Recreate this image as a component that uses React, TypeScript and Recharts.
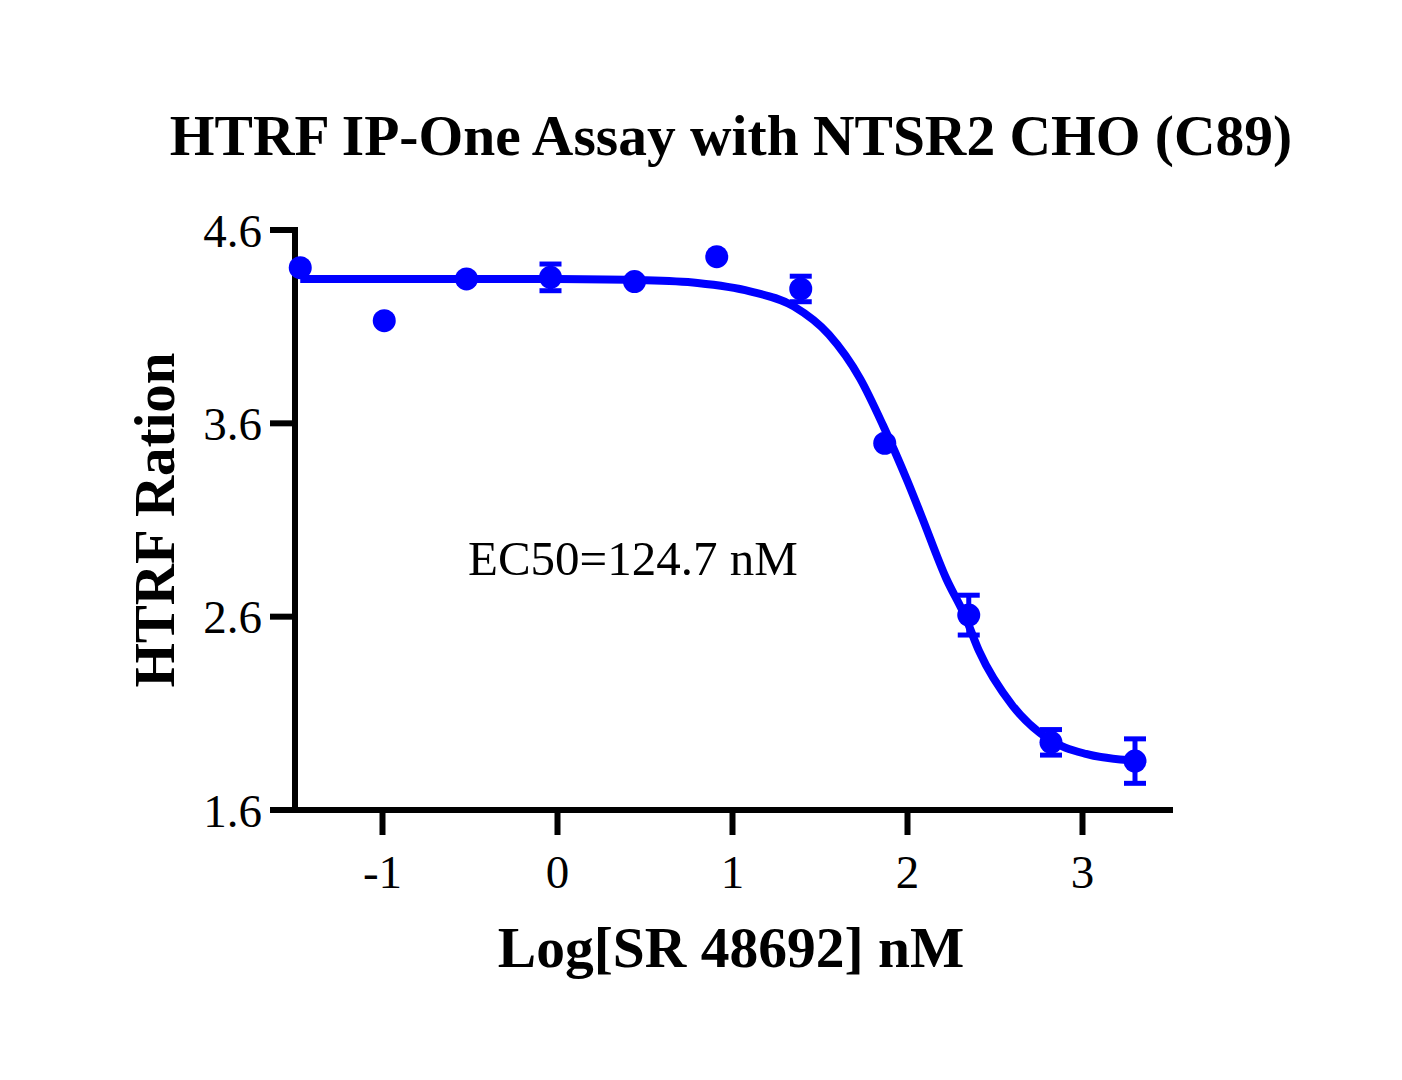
import {
  ComposedChart,
  XAxis,
  YAxis,
  Line,
  Scatter,
  ErrorBar,
} from "recharts";

// measured points: log concentration (nM), HTRF ratio, SEM
const LOG_CONC = [-1.47, -0.99, -0.52, -0.04, 0.44, 0.91, 1.39, 1.87, 2.35, 2.82, 3.3];
const RATIO = [4.405, 4.131, 4.347, 4.355, 4.333, 4.462, 4.295, 3.497, 2.608, 1.95, 1.853];
const SEM = [0, 0, 0, 0.069, 0, 0, 0.066, 0, 0.103, 0.066, 0.115];

// fitted curve
const FIT_X = [-1.47, -0.5, 0, 0.5, 0.8, 1.1, 1.35, 1.55, 1.73, 1.86, 2.0, 2.08, 2.22, 2.33, 2.41, 2.6, 2.8, 3.02, 3.3];
const FIT_Y = [4.347, 4.347, 4.346, 4.34, 4.326, 4.283, 4.205, 4.06, 3.83, 3.59, 3.3, 3.12, 2.8, 2.6, 2.42, 2.14, 1.97, 1.89, 1.855];

const X_TICKS = [-1, 0, 1, 2, 3];
const Y_TICKS = [1.6, 2.6, 3.6, 4.6];

const points = LOG_CONC.map((x, i) => ({ x, y: RATIO[i], err: SEM[i] }));
const fit = FIT_X.map((x, i) => ({ x, y: FIT_Y[i] }));

const BLUE = "#0000FF";
const SERIF = "'Liberation Serif', 'Times New Roman', serif";

const Dot = (p: any) => <circle cx={p.cx} cy={p.cy} r={11.5} fill={BLUE} />;

export default function App() {
  return (
    <div style={{ position: "absolute", left: 0, top: 0, width: 1402, height: 1080, background: "#fff" }}>
      <ComposedChart
        width={1402}
        height={1080}
        margin={{ top: 230, right: 232, bottom: 0, left: 0 }}
      >
        <XAxis
          type="number"
          dataKey="x"
          domain={[-1.5, 3.5]}
          ticks={X_TICKS}
          height={270}
          axisLine={{ stroke: "#000", strokeWidth: 6, strokeLinecap: "square" }}
          tickLine={{ stroke: "#000", strokeWidth: 6 }}
          tickSize={25}
          tickMargin={20}
          tick={{ fill: "#000", fontSize: 47, fontFamily: SERIF }}
        />
        <YAxis
          type="number"
          dataKey="y"
          domain={[1.6, 4.6]}
          ticks={Y_TICKS}
          width={295}
          axisLine={{ stroke: "#000", strokeWidth: 6, strokeLinecap: "square" }}
          tickLine={{ stroke: "#000", strokeWidth: 6 }}
          tickSize={25}
          tickMargin={8}
          tickFormatter={(v: number) => v.toFixed(1)}
          tick={{ fill: "#000", fontSize: 47, fontFamily: SERIF }}
        />
        <Line
          data={fit}
          dataKey="y"
          type="monotone"
          stroke={BLUE}
          strokeWidth={8}
          dot={false}
          activeDot={false}
          isAnimationActive={false}
        />
        <Scatter data={points} dataKey="y" fill={BLUE} shape={Dot} isAnimationActive={false}>
          <ErrorBar
            dataKey="err"
            direction="y"
            width={11}
            stroke={BLUE}
            strokeWidth={5}
            isAnimationActive={false}
          />
        </Scatter>
        <text x={731} y={155} textAnchor="middle" fontFamily={SERIF} fontWeight="bold" fontSize={57.5} fill="#000">
          HTRF IP-One Assay with NTSR2 CHO (C89)
        </text>
        <text
          x={174}
          y={520}
          transform="rotate(-90 174 520)"
          textAnchor="middle"
          fontFamily={SERIF}
          fontWeight="bold"
          fontSize={57}
          fill="#000"
        >
          HTRF Ration
        </text>
        <text x={731} y={967} textAnchor="middle" fontFamily={SERIF} fontWeight="bold" fontSize={57.5} fill="#000">
          Log[SR 48692] nM
        </text>
        <text x={468} y={575} fontFamily={SERIF} fontSize={49} fill="#000">
          EC50=124.7 nM
        </text>
      </ComposedChart>
    </div>
  );
}
